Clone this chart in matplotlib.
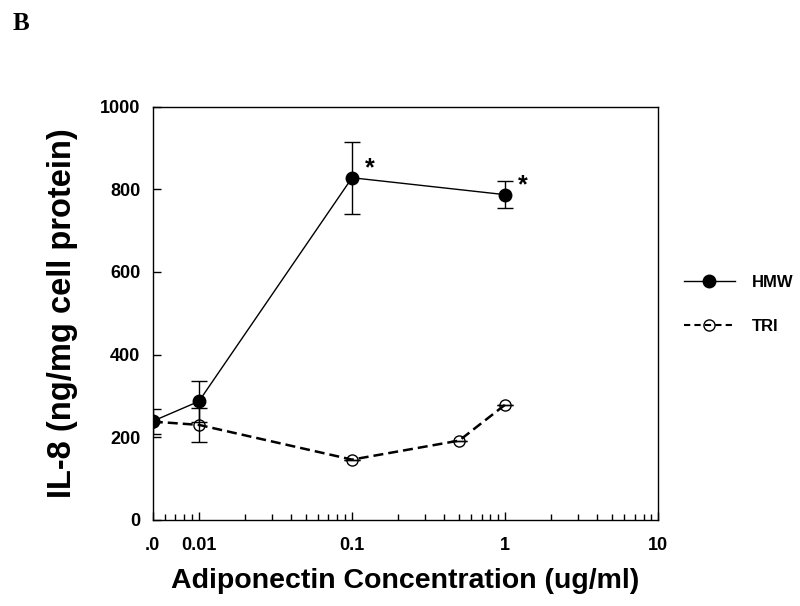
import matplotlib.pyplot as plt
from matplotlib.lines import Line2D
from matplotlib.ticker import FixedLocator, NullFormatter

plt.rcParams["font.family"] = ["Liberation Sans", "DejaVu Sans"]
plt.rcParams["font.weight"] = "bold"

# HMW adiponectin
hmw_conc = [0.005, 0.01, 0.1, 1]
hmw_il8 = [239, 287, 828, 787]
hmw_err = [30, 49, 87, 33]

# trimer (TRI)
tri_conc = [0.005, 0.01, 0.1, 0.5, 1]
tri_il8 = [238, 230, 146, 192, 279]
tri_err = [0, 42, 0, 0, 0]

star_conc = [0.1, 1]
star_il8 = [828, 787]

x_major = [0.005, 0.01, 0.1, 1, 10]
x_labels = [".0", "0.01", "0.1", "1", "10"]
y_ticks = [0, 200, 400, 600, 800, 1000]

fig = plt.figure(figsize=(8, 6.06), dpi=100)
ax = fig.add_axes([0.191, 0.142, 0.632, 0.682])

ax.errorbar(tri_conc, tri_il8, yerr=tri_err, color="black", ls=(0, (4, 2)),
            lw=1.8, marker="o", ms=8, mfc="none", mec="black", mew=1,
            capsize=6, elinewidth=1, capthick=1, zorder=2)
ax.errorbar(hmw_conc, hmw_il8, yerr=hmw_err, color="black", ls="-", lw=1,
            marker="o", ms=9, mfc="black", mec="black",
            capsize=6, elinewidth=1, capthick=1, zorder=3)

for x, y in zip(star_conc, star_il8):
    ax.annotate("*", (x, y), xytext=(9, -2), textcoords="offset points",
                fontsize=18, fontweight="bold", ha="left", va="bottom")

ax.set_xscale("log")
ax.set_xlim(0.005, 10)
ax.set_ylim(0, 1000)

ax.xaxis.set_major_locator(FixedLocator(x_major))
ax.set_xticklabels(x_labels)
minors = [m * d for d in [0.001, 0.01, 0.1, 1] for m in range(2, 10)]
ax.xaxis.set_minor_locator(FixedLocator([v for v in minors if 0.005 < v < 10]))
ax.xaxis.set_minor_formatter(NullFormatter())
ax.set_yticks(y_ticks)

ax.tick_params(axis="both", which="major", direction="in", length=6,
               width=1, labelsize=13)
ax.tick_params(axis="x", which="major", pad=12)
ax.tick_params(axis="y", which="major", pad=9)
ax.tick_params(axis="x", which="minor", direction="in", length=4, width=1)
ax.tick_params(top=False, right=False, which="both")
for label in ax.get_xticklabels() + ax.get_yticklabels():
    label.set_fontweight("bold")
for sp in ax.spines.values():
    sp.set_linewidth(1)

ax.set_xlabel("Adiponectin Concentration (ug/ml)", fontsize=20.5,
              fontweight="bold", labelpad=10)
ax.set_ylabel("IL-8 (ng/mg cell protein)", fontsize=23.5, fontweight="bold",
              labelpad=16)

handles = [
    Line2D([], [], color="black", lw=1, marker="o", ms=9, mfc="black"),
    Line2D([], [], color="black", lw=1.5, ls=(0, (3, 2)), marker="o", ms=8,
           mfc="none", mew=1),
]
leg = ax.legend(handles, ["HMW", "TRI"], loc="center left",
                bbox_to_anchor=(1.02, 0.522), frameon=False, fontsize=12,
                handlelength=3.1, labelspacing=1.75, handletextpad=1.0)
for t in leg.get_texts():
    t.set_fontweight("bold")

fig.text(0.016, 0.962, "B", fontsize=18, fontweight="bold",
         family="Liberation Serif", va="center")

fig.savefig("out.png", dpi=100)
